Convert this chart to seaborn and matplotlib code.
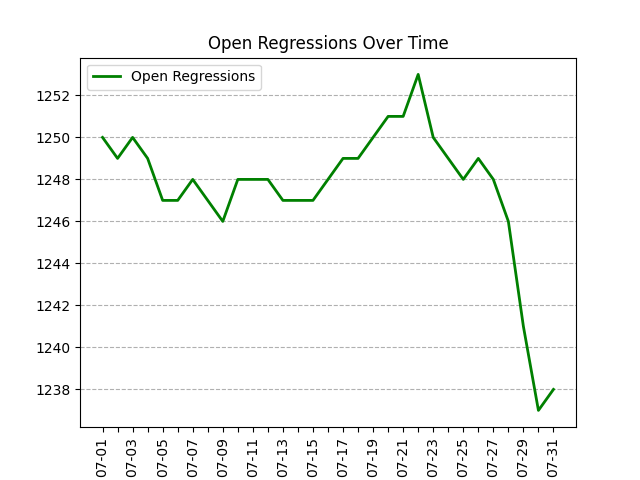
import pandas as pd
import matplotlib.pyplot as plt
import seaborn as sns

# daily open regression counts, July
dates = pd.date_range("2024-07-01", "2024-07-31", freq="D")
open_regressions = [1250, 1249, 1250, 1249, 1247, 1247, 1248, 1247, 1246, 1248,
                    1248, 1248, 1247, 1247, 1247, 1248, 1249, 1249, 1250, 1251,
                    1251, 1253, 1250, 1249, 1248, 1249, 1248, 1246, 1241, 1237,
                    1238]

df = pd.DataFrame({"date": dates, "open": open_regressions})

fig, ax = plt.subplots(figsize=(6.4, 4.8), dpi=100)
sns.lineplot(data=df, x="date", y="open", color="green", linewidth=2,
             label="Open Regressions", ax=ax)

ax.set_xticks(df["date"])
ax.set_xticklabels([d.strftime("%m-%d") if i % 2 == 0 else "" for i, d in enumerate(df["date"])],
                   rotation=90)
ax.set_title("Open Regressions Over Time")
ax.set_xlabel("")
ax.set_ylabel("")
ax.grid(axis="y", linestyle="--")
ax.legend(loc="upper left")

plt.savefig("out.png")
